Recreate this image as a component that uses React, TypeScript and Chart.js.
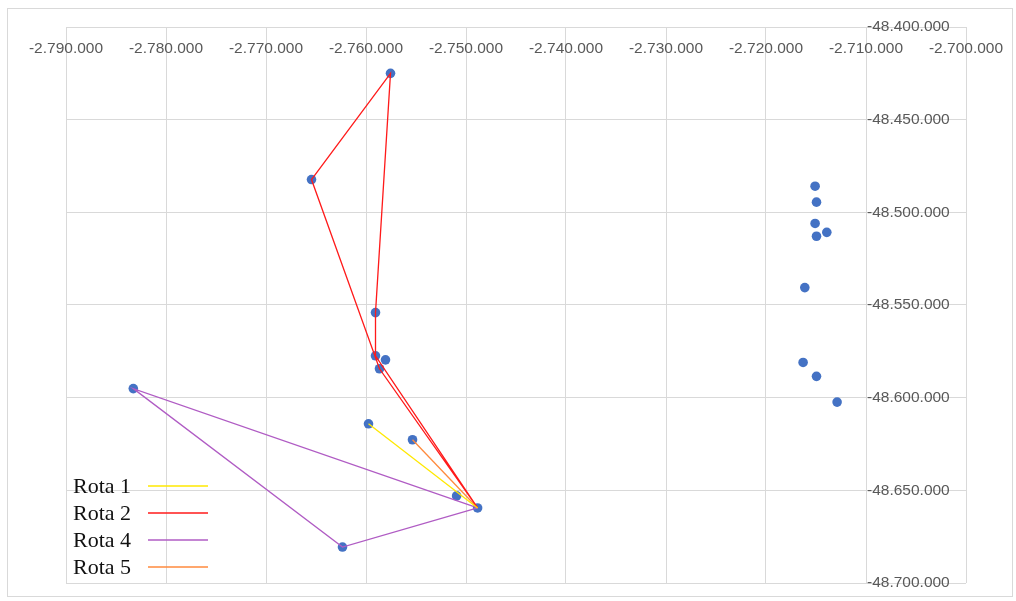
import { useEffect, useRef } from 'react';
import { Chart, registerables } from 'chart.js';
Chart.register(...registerables);

// Axis ticks and labels
const xTicks = [-2.79, -2.78, -2.77, -2.76, -2.75, -2.74, -2.73, -2.72, -2.71, -2.7];
const xTickLabels = ['-2.790.000', '-2.780.000', '-2.770.000', '-2.760.000', '-2.750.000', '-2.740.000', '-2.730.000', '-2.720.000', '-2.710.000', '-2.700.000'];
const yTicks = [-48.4, -48.45, -48.5, -48.55, -48.6, -48.65, -48.7];
const yTickLabels = ['-48.400.000', '-48.450.000', '-48.500.000', '-48.550.000', '-48.600.000', '-48.650.000', '-48.700.000'];

// All stops (blue markers)
const stopX = [
  -2.74884, -2.75905, -2.75905, -2.75755, -2.76545, -2.75865, -2.75805, -2.75975, -2.75535, -2.75094,
  -2.78327, -2.76235,
  -2.71509, -2.71495, -2.71509, -2.71495, -2.71392, -2.71612, -2.71629, -2.71495, -2.71289,
];
const stopY = [
  -48.6595, -48.5774, -48.5541, -48.4250, -48.4823, -48.5844, -48.5796, -48.6141, -48.6227, -48.6530,
  -48.5951, -48.6806,
  -48.4859, -48.4945, -48.5060, -48.5129, -48.5108, -48.5406, -48.5810, -48.5885, -48.6024,
];

// Routes
const rota1X = [-2.75975, -2.74884];
const rota1Y = [-48.6141, -48.6595];
const rota2X = [-2.74884, -2.75905, -2.75905, -2.75755, -2.76545, -2.75865, -2.74884];
const rota2Y = [-48.6595, -48.5774, -48.5541, -48.4250, -48.4823, -48.5844, -48.6595];
const rota4X = [-2.74884, -2.78327, -2.76235, -2.74884];
const rota4Y = [-48.6595, -48.5951, -48.6806, -48.6595];
const rota5X = [-2.75535, -2.74884];
const rota5Y = [-48.6227, -48.6595];

const routeLabels = ['Rota 1', 'Rota 2', 'Rota 4', 'Rota 5'];
const routeColors = ['#FFE800', '#FF1A1A', '#B05CC4', '#FF8A3D'];

const toPts = (xs: number[], ys: number[]) => xs.map((x, i) => ({ x, y: ys[i] }));

const decorPlugin = {
  id: 'decor',
  afterDraw(chart: any) {
    const ctx = chart.ctx;
    const xs = chart.scales.x;
    const ys = chart.scales.y;
    ctx.save();
    // outer border
    ctx.strokeStyle = '#d9d9d9';
    ctx.lineWidth = 1;
    ctx.strokeRect(7.5, 8.5, 1005, 588);
    // tick labels
    ctx.fillStyle = '#595959';
    ctx.font = '15.5px "Liberation Sans", Arial, sans-serif';
    ctx.textAlign = 'center';
    ctx.textBaseline = 'middle';
    xTicks.forEach((v, i) => {
      ctx.fillText(xTickLabels[i], xs.getPixelForValue(v), ys.top + 22);
    });
    ctx.textAlign = 'left';
    const yAxisX = xs.getPixelForValue(-2.71);
    yTicks.forEach((v, i) => {
      ctx.fillText(yTickLabels[i], yAxisX + 1, ys.getPixelForValue(v));
    });
    // legend
    ctx.font = '22px "Liberation Serif", "Times New Roman", serif';
    ctx.textBaseline = 'alphabetic';
    ctx.fillStyle = '#111';
    const routes = chart.data.datasets.filter((d: any) => d.label && d.label.startsWith('Rota'));
    routes.forEach((d: any, i: number) => {
      const base = 493 + i * 27;
      ctx.fillStyle = '#111';
      ctx.fillText(d.label, 73, base);
      ctx.strokeStyle = d.borderColor;
      ctx.lineWidth = 1.6;
      ctx.beginPath();
      ctx.moveTo(148, base - 7);
      ctx.lineTo(208, base - 7);
      ctx.stroke();
    });
    ctx.restore();
  },
};

export default function App() {
  const ref = useRef<HTMLCanvasElement>(null);
  useEffect(() => {
    if (!ref.current) return;
    const routeData = [toPts(rota1X, rota1Y), toPts(rota2X, rota2Y), toPts(rota4X, rota4Y), toPts(rota5X, rota5Y)];
    const chart = new Chart(ref.current, {
      type: 'scatter',
      data: {
        datasets: [
          ...routeData.map((data, i) => ({
            label: routeLabels[i],
            data,
            showLine: true,
            borderColor: routeColors[i],
            backgroundColor: routeColors[i],
            borderWidth: 1.3,
            pointRadius: 0,
            tension: 0,
            order: 1,
          })),
          {
            label: 'Paradas',
            data: toPts(stopX, stopY),
            showLine: false,
            pointRadius: 4.8,
            pointBackgroundColor: '#4472C4',
            pointBorderColor: '#4472C4',
            pointBorderWidth: 0,
            order: 2,
          },
        ],
      },
      options: {
        animation: false,
        responsive: false,
        maintainAspectRatio: false,
        layout: { padding: { left: 66, top: 27, right: 50, bottom: 18 } },
        plugins: { legend: { display: false }, tooltip: { enabled: false } },
        scales: {
          x: {
            type: 'linear',
            position: 'top',
            min: -2.79,
            max: -2.7,
            afterBuildTicks: (s: any) => { s.ticks = xTicks.map((v) => ({ value: v })); },
            ticks: { display: false },
            grid: { color: '#d9d9d9', lineWidth: 1, drawTicks: false },
            border: { display: false },
          },
          y: {
            type: 'linear',
            position: 'right',
            min: -48.7,
            max: -48.4,
            afterBuildTicks: (s: any) => { s.ticks = yTicks.map((v) => ({ value: v })); },
            ticks: { display: false },
            grid: { color: '#d9d9d9', lineWidth: 1, drawTicks: false },
            border: { display: false },
          },
        },
      },
      plugins: [decorPlugin],
    });
    return () => chart.destroy();
  }, []);
  return (
    <div style={{ position: 'absolute', left: 0, top: 0, width: 1016, height: 601, background: '#fff' }}>
      <canvas ref={ref} width={1016} height={601} style={{ display: 'block' }} />
    </div>
  );
}
